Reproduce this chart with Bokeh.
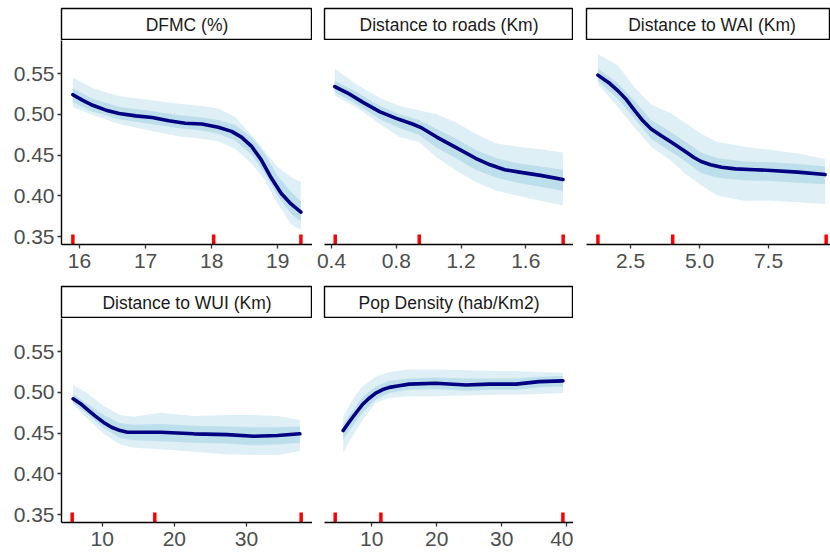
from bokeh.plotting import figure
from bokeh.layouts import column, row
from bokeh.models import FixedTicker, Range1d
from bokeh.core.properties import value
from bokeh.embed import file_html
from bokeh.resources import INLINE

FONT = "Liberation Sans"

# ---------------- data ----------------
titles = ["DFMC (%)", "Distance to roads (Km)", "Distance to WAI (Km)",
          "Distance to WUI (Km)", "Pop Density (hab/Km2)"]

y_ticks = [0.35, 0.40, 0.45, 0.50, 0.55]
y_tick_labels = ["0.35", "0.40", "0.45", "0.50", "0.55"]

# DFMC (%)
dfmc_pdp_x = [15.9, 16.05, 16.2, 16.4, 16.6, 16.85, 17.1, 17.35, 17.6, 17.85, 18.1, 18.3, 18.45,
              18.6, 18.75, 18.9, 19.05, 19.2, 19.35]
dfmc_pdp = [0.524, 0.517, 0.511, 0.505, 0.501, 0.498, 0.496, 0.492, 0.489, 0.488, 0.484, 0.479, 0.472,
            0.461, 0.444, 0.422, 0.403, 0.390, 0.380]
dfmc_ice_x = [15.9, 16.2, 16.6, 17.0, 17.5, 17.85, 18.1, 18.35, 18.6, 18.8, 19.0, 19.2, 19.35]
dfmc_ice_max = [0.545, 0.532, 0.522, 0.518, 0.513, 0.510, 0.507, 0.497, 0.475, 0.455, 0.435, 0.423, 0.417]
dfmc_ice_min = [0.509, 0.499, 0.488, 0.481, 0.473, 0.470, 0.467, 0.458, 0.440, 0.420, 0.390, 0.365, 0.358]
dfmc_ice_q75 = [0.532, 0.519, 0.509, 0.505, 0.499, 0.496, 0.493, 0.487, 0.472, 0.452, 0.424, 0.405, 0.393]
dfmc_ice_q25 = [0.515, 0.503, 0.494, 0.489, 0.483, 0.480, 0.476, 0.468, 0.451, 0.428, 0.400, 0.378, 0.368]
dfmc_rug = [15.90, 18.03, 19.35]
dfmc_ticks = [16, 17, 18, 19]
dfmc_tick_labels = ["16", "17", "18", "19"]

# Distance to roads (Km)
roads_pdp_x = [0.42, 0.50, 0.60, 0.70, 0.80, 0.90, 0.95, 1.05, 1.17, 1.29, 1.38, 1.47, 1.56, 1.69, 1.83]
roads_pdp = [0.534, 0.526, 0.514, 0.503, 0.495, 0.488, 0.484, 0.472, 0.459, 0.446, 0.438, 0.432, 0.429,
             0.425, 0.420]
roads_ice_x = [0.42, 0.55, 0.70, 0.82, 0.94, 1.05, 1.17, 1.29, 1.42, 1.55, 1.69, 1.83]
roads_ice_max = [0.556, 0.537, 0.520, 0.510, 0.505, 0.500, 0.490, 0.476, 0.464, 0.460, 0.457, 0.453]
roads_ice_min = [0.523, 0.509, 0.488, 0.472, 0.466, 0.447, 0.431, 0.417, 0.406, 0.400, 0.394, 0.388]
roads_ice_q75 = [0.541, 0.528, 0.510, 0.500, 0.493, 0.482, 0.470, 0.456, 0.446, 0.440, 0.436, 0.432]
roads_ice_q25 = [0.527, 0.513, 0.494, 0.483, 0.475, 0.459, 0.446, 0.432, 0.422, 0.416, 0.411, 0.406]
roads_rug = [0.423, 0.942, 1.831]
roads_ticks = [0.4, 0.8, 1.2, 1.6]
roads_tick_labels = ["0.4", "0.8", "1.2", "1.6"]

# Distance to WAI (Km)
wai_pdp_x = [1.32, 1.7, 2.04, 2.35, 2.64, 2.95, 3.25, 3.6, 3.97, 4.46, 4.8, 5.06, 5.4, 5.8, 6.3, 7.0,
             7.6, 8.56, 9.55]
wai_pdp = [0.548, 0.539, 0.529, 0.518, 0.505, 0.492, 0.482, 0.474, 0.466, 0.455, 0.447, 0.442, 0.438,
           0.435, 0.433, 0.432, 0.431, 0.429, 0.426]
wai_ice_x = [1.32, 2.04, 2.64, 3.25, 3.97, 4.46, 5.06, 5.66, 6.63, 7.60, 8.56, 9.55]
wai_ice_max = [0.574, 0.560, 0.533, 0.512, 0.501, 0.490, 0.476, 0.466, 0.460, 0.456, 0.452, 0.445]
wai_ice_min = [0.537, 0.509, 0.484, 0.460, 0.443, 0.428, 0.413, 0.400, 0.394, 0.394, 0.392, 0.390]
wai_ice_q75 = [0.556, 0.538, 0.517, 0.493, 0.478, 0.467, 0.453, 0.446, 0.442, 0.441, 0.439, 0.436]
wai_ice_q25 = [0.541, 0.519, 0.495, 0.470, 0.454, 0.443, 0.428, 0.422, 0.419, 0.418, 0.416, 0.414]
wai_rug = [1.32, 4.03, 9.59]
wai_ticks = [2.5, 5.0, 7.5]
wai_tick_labels = ["2.5", "5.0", "7.5"]

# Distance to WUI (Km)
wui_pdp_x = [5.98, 7.0, 7.92, 9.0, 10.2, 11.3, 12.5, 13.5, 14.4, 18.1, 22.7, 27.3, 31.0, 34.3, 37.4]
wui_pdp = [0.492, 0.486, 0.479, 0.471, 0.463, 0.457, 0.453, 0.451, 0.451, 0.451, 0.449, 0.448, 0.446,
           0.447, 0.449]
wui_ice_x = [5.98, 7.92, 10.2, 12.5, 14.4, 18.1, 22.7, 27.3, 31.0, 34.3, 37.4]
wui_ice_max = [0.509, 0.499, 0.483, 0.472, 0.470, 0.475, 0.471, 0.472, 0.472, 0.471, 0.466]
wui_ice_min = [0.485, 0.468, 0.449, 0.436, 0.432, 0.430, 0.427, 0.424, 0.423, 0.423, 0.428]
wui_ice_q75 = [0.498, 0.486, 0.472, 0.462, 0.460, 0.461, 0.459, 0.458, 0.457, 0.457, 0.458]
wui_ice_q25 = [0.487, 0.473, 0.456, 0.444, 0.441, 0.440, 0.438, 0.437, 0.435, 0.436, 0.438]
wui_rug = [5.84, 17.29, 37.58]
wui_ticks = [10, 20, 30]
wui_tick_labels = ["10", "20", "30"]

# Pop Density (hab/Km2)
pop_pdp_x = [5.6, 6.3, 7.03, 7.8, 8.57, 9.5, 10.6, 11.6, 12.7, 14.2, 15.75, 19.85, 24.5, 28.1, 32.2,
             35.75, 39.4]
pop_pdp = [0.453, 0.461, 0.469, 0.477, 0.485, 0.492, 0.499, 0.503, 0.506, 0.508, 0.510, 0.511, 0.509,
           0.510, 0.510, 0.513, 0.514]
pop_ice_x = [5.6, 7.03, 8.57, 10.6, 12.7, 15.75, 19.85, 24.5, 28.1, 32.2, 35.75, 39.4]
pop_ice_max = [0.470, 0.491, 0.507, 0.519, 0.525, 0.528, 0.528, 0.527, 0.526, 0.526, 0.525, 0.524]
pop_ice_min = [0.426, 0.446, 0.466, 0.487, 0.493, 0.495, 0.495, 0.496, 0.497, 0.497, 0.498, 0.499]
pop_ice_q75 = [0.461, 0.477, 0.494, 0.507, 0.514, 0.517, 0.518, 0.517, 0.517, 0.517, 0.519, 0.520]
pop_ice_q25 = [0.442, 0.458, 0.475, 0.491, 0.499, 0.503, 0.504, 0.502, 0.503, 0.503, 0.506, 0.507]
pop_rug = [4.37, 11.4, 39.4]
pop_ticks = [10, 20, 30, 40]
pop_tick_labels = ["10", "20", "30", "40"]

panels = [
    dict(px=dfmc_pdp_x, pdp=dfmc_pdp, x=dfmc_ice_x, mx=dfmc_ice_max, mn=dfmc_ice_min, q75=dfmc_ice_q75,
         q25=dfmc_ice_q25, rug=dfmc_rug, ticks=dfmc_ticks, labels=dfmc_tick_labels, xr=(15.728, 19.525)),
    dict(px=roads_pdp_x, pdp=roads_pdp, x=roads_ice_x, mx=roads_ice_max, mn=roads_ice_min, q75=roads_ice_q75,
         q25=roads_ice_q25, rug=roads_rug, ticks=roads_ticks, labels=roads_tick_labels, xr=(0.3568, 1.8948)),
    dict(px=wai_pdp_x, pdp=wai_pdp, x=wai_ice_x, mx=wai_ice_max, mn=wai_ice_min, q75=wai_ice_q75,
         q25=wai_ice_q25, rug=wai_rug, ticks=wai_ticks, labels=wai_tick_labels, xr=(0.906, 9.747)),
    dict(px=wui_pdp_x, pdp=wui_pdp, x=wui_ice_x, mx=wui_ice_max, mn=wui_ice_min, q75=wui_ice_q75,
         q25=wui_ice_q25, rug=wui_rug, ticks=wui_ticks, labels=wui_tick_labels, xr=(4.359, 39.15)),
    dict(px=pop_pdp_x, pdp=pop_pdp, x=pop_ice_x, mx=pop_ice_max, mn=pop_ice_min, q75=pop_ice_q75,
         q25=pop_ice_q25, rug=pop_rug, ticks=pop_ticks, labels=pop_tick_labels, xr=(2.723, 41.03)),
]

# ---------------- layout geometry ----------------
Y0, Y1 = 0.3402, 0.5905
FRAME_H = 204
RUG_LEN = (Y1 - Y0) * 10.0 / FRAME_H
# (figure width, left border) for the three columns
cols = [(312, 61), (261, 12), (257, 13)]
strip_span = [1.0, 1.0, 251.0 / 244.0]


def style_axis(ax, standoff):
    ax.axis_line_color = "black"
    ax.axis_line_width = 1.4
    ax.major_tick_line_color = "#333333"
    ax.major_tick_line_width = 1.3
    ax.major_tick_out = 4
    ax.major_tick_in = 0
    ax.minor_tick_line_color = None
    ax.major_label_text_font = FONT
    ax.major_label_text_font_size = "21px"
    ax.major_label_text_color = "#4d4d4d"
    ax.major_label_standoff = standoff


def make_strip(i, col, top):
    w, left = cols[col]
    p = figure(width=w, height=32 + top, output_backend="svg", toolbar_location=None,
               title=None, x_range=Range1d(0, 1.0 / strip_span[col]), y_range=Range1d(0, 1),
               x_axis_location=None, y_axis_location=None,
               min_border_left=left, min_border_right=0, min_border_top=top, min_border_bottom=0)
    p.xgrid.visible = False
    p.ygrid.visible = False
    p.outline_line_color = "black"
    p.outline_line_width = 1.4
    p.background_fill_color = "white"
    p.text(x=[0.5], y=[0.5], text=[titles[i]], text_align="center", text_baseline="middle",
           text_font=value(FONT), text_font_size="17.5px", text_color="#1a1a1a")
    return p


def make_panel(i, col, bottom):
    d = panels[i]
    w, left = cols[col]
    p = figure(width=w, height=FRAME_H + bottom, output_backend="svg", toolbar_location=None,
               title=None, x_range=Range1d(*d["xr"]), y_range=Range1d(Y0, Y1),
               x_axis_location="below", y_axis_location="left" if col == 0 else None,
               min_border_left=left, min_border_right=0, min_border_top=0, min_border_bottom=bottom)
    p.xgrid.visible = False
    p.ygrid.visible = False
    p.outline_line_color = None
    p.varea(x=d["x"], y1=d["mn"], y2=d["mx"], fill_color="#add8e6", fill_alpha=0.4)
    p.varea(x=d["x"], y1=d["q25"], y2=d["q75"], fill_color="#a6d3e5", fill_alpha=0.6)
    p.line(x=d["px"], y=d["pdp"], line_color="#000080", line_width=3.6,
           line_join="round", line_cap="round")
    n = len(d["rug"])
    p.segment(x0=d["rug"], x1=d["rug"], y0=[Y0] * n, y1=[Y0 + RUG_LEN] * n,
              line_color="#ff0000", line_width=3.5)
    p.xaxis.ticker = FixedTicker(ticks=d["ticks"])
    p.xaxis.major_label_overrides = {t: l for t, l in zip(d["ticks"], d["labels"])}
    style_axis(p.xaxis[0], 5)
    if col == 0:
        p.yaxis.ticker = FixedTicker(ticks=y_ticks)
        p.yaxis.major_label_overrides = {t: l for t, l in zip(y_ticks, y_tick_labels)}
        style_axis(p.yaxis[0], 3)
    return p


top_strips = row(make_strip(0, 0, 8), make_strip(1, 1, 8), make_strip(2, 2, 8))
top_plots = row(make_panel(0, 0, 36), make_panel(1, 1, 36), make_panel(2, 2, 36))
bot_strips = row(make_strip(3, 0, 6), make_strip(4, 1, 6))
bot_plots = row(make_panel(3, 0, 30), make_panel(4, 1, 30))

layout = column(top_strips, top_plots, bot_strips, bot_plots)

open("out.html", "w").write(file_html(layout, INLINE))
